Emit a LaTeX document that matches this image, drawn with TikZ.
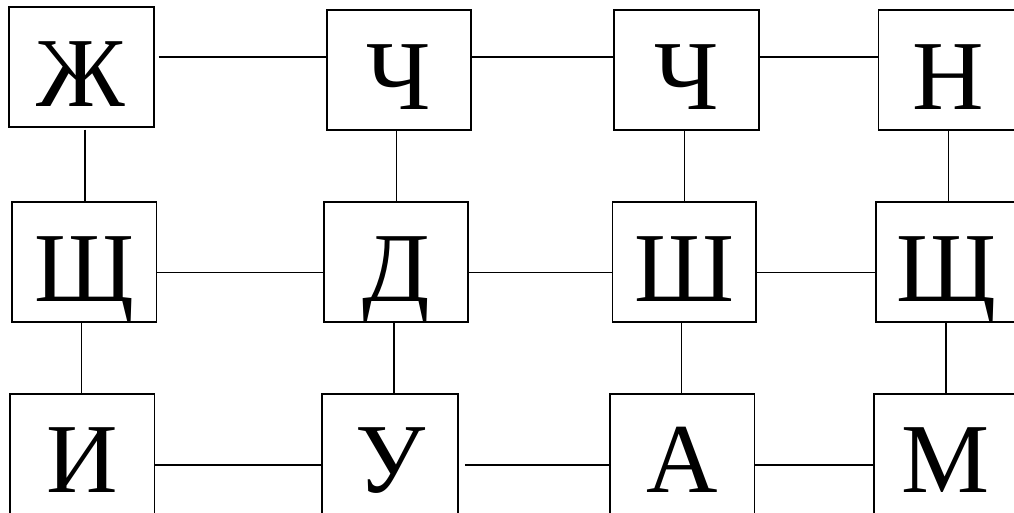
\documentclass[tikz,border=0pt]{standalone}
\usepackage{fontspec}
\setmainfont{Liberation Serif}
\begin{document}
\begin{tikzpicture}[x=1pt,y=-1pt,
  box/.style={draw, line width=1.5pt, inner sep=0pt,
    minimum height=120pt, anchor=north west},
  letter/.style={inner sep=0pt, anchor=base,
    font=\fontsize{99}{99}\selectfont},
  link/.style={line width=1.3pt}]
\useasboundingbox (0,0) rectangle (1014,512);
\clip (0,0) rectangle (1014,512);
% row 1
\node[box,minimum width=145pt] (a1) at (8,6) {};
\node[box,minimum width=144pt] (a2) at (326,9) {};
\node[box,minimum width=145pt] (a3) at (613,9.3) {};
\node[box,minimum width=142pt] (a4) at (877.7,9.3) {};
% row 2
\node[box,minimum width=144.7pt] (b1) at (11,201) {};
\node[box,minimum width=144pt] (b2) at (323.3,201) {};
\node[box,minimum width=143.3pt] (b3) at (611.7,201) {};
\node[box,minimum width=143pt] (b4) at (875,201) {};
% row 3
\node[box,minimum width=144.4pt] (c1) at (9.3,393) {};
\node[box,minimum width=136pt] (c2) at (321.3,393) {};
\node[box,minimum width=144.4pt] (c3) at (609.3,393) {};
\node[box,minimum width=144pt] (c4) at (873.3,393) {};
% letters
\node[letter] (ta1) at ([yshift=-100pt]a1.north) {Ж};
\node[letter] (ta2) at ([yshift=-100pt]a2.north) {Ч};
\node[letter] (ta3) at ([yshift=-100pt]a3.north) {Ч};
\node[letter] (ta4) at ([yshift=-100pt,xshift=-1pt]a4.north) {Н};
\node[letter] (tb1) at ([yshift=-100pt]b1.north) {Щ};
\node[letter] (tb2) at ([yshift=-100pt]b2.north) {Д};
\node[letter] (tb3) at ([yshift=-100pt]b3.north) {Ш};
\node[letter] (tb4) at ([yshift=-100pt,xshift=-1pt]b4.north) {Щ};
\node[letter] (tc1) at ([yshift=-99pt]c1.north) {И};
\node[letter] (tc2) at ([yshift=-99pt]c2.north) {У};
\node[letter] (tc3) at ([yshift=-99pt]c3.north) {А};
\node[letter] (tc4) at ([yshift=-99pt,xshift=-1pt]c4.north) {М};
% horizontal links
\draw[link] ([xshift=4pt]a1.east |- 0,57) -- (a2.west |- 0,57);
\draw[link] (a2.east |- 0,57) -- (a3.west |- 0,57);
\draw[link] (a3.east |- 0,57) -- (a4.west |- 0,57);
\draw[link] (b1.east |- 0,272.7) -- (b2.west |- 0,272.7);
\draw[link] (b2.east |- 0,272.7) -- (b3.west |- 0,272.7);
\draw[link] (b3.east |- 0,272.7) -- (b4.west |- 0,272.7);
\draw[link] (c1.east |- 0,465) -- (c2.west |- 0,465);
\draw[link] ([xshift=6pt]c2.east |- 0,465) -- (c3.west |- 0,465);
\draw[link] (c3.east |- 0,465) -- (c4.west |- 0,465);
% vertical links
\draw[link] ([yshift=-2pt]a1.south -| 85,0) -- (b1.north -| 85,0);
\draw[link] (a2.south -| 396.7,0) -- (b2.north -| 396.7,0);
\draw[link] (a3.south -| 684.7,0) -- (b3.north -| 684.7,0);
\draw[link] (a4.south -| 948.7,0) -- (b4.north -| 948.7,0);
\draw[link] (b1.south -| 81.7,0) -- (c1.north -| 81.7,0);
\draw[link] (b2.south -| 394,0) -- (c2.north -| 394,0);
\draw[link] (b3.south -| 681.7,0) -- (c3.north -| 681.7,0);
\draw[link] (b4.south -| 946,0) -- (c4.north -| 946,0);
\end{tikzpicture}
\end{document}
